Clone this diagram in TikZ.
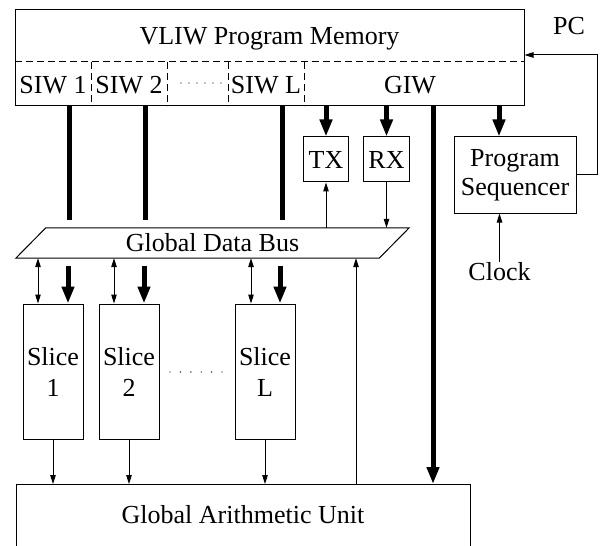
\documentclass[tikz,border=0pt]{standalone}
\usepackage{fontspec}
\setmainfont{Liberation Serif}
\usetikzlibrary{arrows.meta}
\begin{document}
\begin{tikzpicture}[x=1pt,y=-1pt,
  box/.style={draw, line width=1pt, inner sep=0pt},
  lbl/.style={inner sep=0pt, font=\fontsize{26}{30}\selectfont},
  thinline/.style={line width=1pt},
  thinarrow/.style={line width=1pt, -{Triangle[length=9pt,width=5.5pt]}},
  biarrow/.style={line width=1pt, {Triangle[length=9pt,width=5.5pt]}-{Triangle[length=9pt,width=5.5pt]}},
  thickline/.style={line width=5pt},
  thickarrow/.style={line width=5pt, -{Triangle[length=17pt,width=12pt]}},
  dotrow/.style={line width=1.4pt, line cap=round, dash pattern=on 0pt off #1},
]
\useasboundingbox (0,0) rectangle (601,545);
\clip (0,0) rectangle (601,545);

% VLIW program memory
\node[box, minimum width=509pt, minimum height=96pt] (mem) at (269.5,58) {};
\coordinate (dl) at (15,62);
\coordinate (dr) at (524,62);
\draw[thinline, dash pattern=on 7pt off 4pt] (dl) -- (dr);
\foreach \x in {91.5,167,228,304}
  \draw[thinline, dash pattern=on 7pt off 4pt] (\x,62) -- (\x,106);
\node[lbl, anchor=base] (title) at (269.5,45) {VLIW Program Memory};
\node[lbl, anchor=base] (siw1) at (53,93.5) {SIW 1};
\node[lbl, anchor=base] (siw2) at (129,93.5) {SIW 2};
\node[lbl, anchor=base] (siwL) at (266,93.5) {SIW L};
\node[lbl, anchor=base] (giw) at (410,93.5) {GIW};
\draw[dotrow=8pt] (181,83) -- (222,83);

% TX / RX
\node[box, lbl, minimum width=45pt, minimum height=45pt] (tx) at (326,159.5) {TX};
\node[box, lbl, minimum width=46pt, minimum height=45pt] (rx) at (386.5,159.5) {RX};

% Program sequencer
\node[box, lbl, minimum width=122pt, minimum height=76pt, align=center,
      font=\fontsize{26}{29}\selectfont] (ps) at (515,175) {Program\\Sequencer};
\node[lbl, anchor=base] (clock) at (499.5,280) {Clock};
\node[lbl, anchor=base] (pc) at (569,35) {PC};

% Global data bus (parallelogram)
\node[inner sep=0pt, minimum width=363pt, minimum height=30pt] (bus) at (212.5,243) {};
\draw[line width=1pt] ([xshift=15pt]bus.north west) -- ([xshift=15pt]bus.north east)
  -- ([xshift=-15pt]bus.south east) -- ([xshift=-15pt]bus.south west) -- cycle;
\node[lbl, anchor=base] (buslbl) at (212.5,251) {Global Data Bus};

% Slices
\node[box, lbl, minimum width=60pt, minimum height=135pt, align=center,
      font=\fontsize{26}{31}\selectfont] (s1) at (53,371.5) {Slice\\1};
\node[box, lbl, minimum width=60pt, minimum height=135pt, align=center,
      font=\fontsize{26}{31}\selectfont] (s2) at (129,371.5) {Slice\\2};
\node[box, lbl, minimum width=60pt, minimum height=135pt, align=center,
      font=\fontsize{26}{31}\selectfont] (sL) at (265,371.5) {Slice\\L};
\draw[dotrow=10.4pt] (170,372) -- (222.5,372);

% Global arithmetic unit
\node[box, minimum width=454pt, minimum height=100pt, anchor=north] (gau) at (243,484) {};
\node[lbl, anchor=base] (gaulbl) at (243,523) {Global Arithmetic Unit};

% thick instruction lines from memory
\coordinate (e1) at (69,220);
\coordinate (e2) at (145,220);
\coordinate (eL) at (282,220);
\draw[thickline] (mem.south -| e1) -- (e1);
\draw[thickline] (mem.south -| e2) -- (e2);
\draw[thickline] (mem.south -| eL) -- (eL);
\draw[thickarrow] (mem.south -| tx.north) -- (tx.north);
\draw[thickarrow] (mem.south -| rx.north) -- (rx.north);
\coordinate (g1) at (433,0);
\draw[thickarrow] (mem.south -| g1) -- (gau.north -| g1);
\coordinate (p1) at (499,0);
\draw[thickarrow] (mem.south -| p1) -- (ps.north -| p1);

% thick lines from bus region into slices
\coordinate (t1) at (68,266);
\coordinate (t2) at (144,266);
\coordinate (tL) at (280,266);
\draw[thickarrow] (t1) -- (t1 |- s1.north);
\draw[thickarrow] (t2) -- (t2 |- s2.north);
\draw[thickarrow] (tL) -- (tL |- sL.north);

% bidirectional bus <-> slices
\coordinate (b1) at (38,0);
\coordinate (b2) at (114,0);
\coordinate (bL) at (251,0);
\draw[biarrow] (bus.south -| b1) -- (s1.north -| b1);
\draw[biarrow] (bus.south -| b2) -- (s2.north -| b2);
\draw[biarrow] (bus.south -| bL) -- (sL.north -| bL);

% TX / RX with bus
\draw[thinarrow] (bus.north -| tx.south) -- (tx.south);
\draw[thinarrow] (rx.south) -- (rx.south |- bus.north);

% GAU up to bus
\coordinate (u1) at (356,0);
\draw[thinarrow] (gau.north -| u1) -- (bus.south -| u1);

% slices down to GAU
\draw[thinarrow] (s1.south) -- (s1.south |- gau.north);
\draw[thinarrow] (s2.south) -- (s2.south |- gau.north);
\draw[thinarrow] (sL.south) -- (sL.south |- gau.north);

% clock
\draw[thinarrow] (clock.north) -- (clock.north |- ps.south);

% PC feedback
\coordinate (pcr) at (597,0);
\coordinate (pcy) at (0,55);
\draw[thinarrow] (ps.east) -- (ps.east -| pcr) -- (pcr |- pcy) -- (mem.east |- pcy);
\end{tikzpicture}
\end{document}
